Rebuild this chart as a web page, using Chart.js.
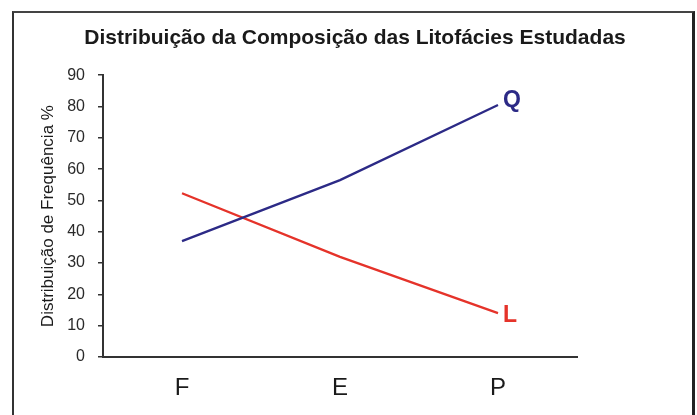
<!DOCTYPE html>
<html>
<head>
<meta charset="utf-8">
<script src="https://cdn.jsdelivr.net/npm/chart.js@4/dist/chart.umd.min.js"></script>
<style>
  html, body { margin: 0; padding: 0; background: #fff; overflow: hidden; }
  #wrap { position: relative; width: 697px; height: 415px; }
  #frame {
    position: absolute; left: 12px; top: 11px; width: 678px; height: 420px;
    border-left: 2px solid #333; border-top: 2px solid #444; border-right: 3px solid #222;
  }
  canvas { position: absolute; left: 0; top: 0; }
</style>
</head>
<body>
<div id="wrap">
  <div id="frame"></div>
  <canvas id="chart" width="697" height="415"></canvas>
</div>
<script>
  const categories = ['F', 'E', 'P'];
  const seriesQ = [37, 56.5, 80.5];
  const seriesL = [52.3, 32, 14];
  const yTicks = [0, 10, 20, 30, 40, 50, 60, 70, 80, 90];

  const FONT = "'Liberation Sans', Arial, sans-serif";

  // draws the Q / L tags just right of the last point of each line
  const endLabels = {
    id: 'endLabels',
    afterDatasetsDraw(chart) {
      const ctx = chart.ctx;
      chart.data.datasets.forEach((ds, i) => {
        const pts = chart.getDatasetMeta(i).data;
        const last = pts[pts.length - 1];
        ctx.save();
        ctx.font = 'bold 23px ' + FONT;
        ctx.fillStyle = ds.borderColor;
        ctx.textAlign = 'left';
        ctx.textBaseline = 'middle';
        ctx.fillText(ds.label, last.x + 5, last.y + ds.tagShift);
        ctx.restore();
      });
    },
  };

  new Chart(document.getElementById('chart'), {
    type: 'line',
    data: {
      labels: categories,
      datasets: [
        {
          label: 'Q',
          data: seriesQ,
          borderColor: '#2c2a86',
          borderWidth: 2.3,
          pointRadius: 0,
          tension: 0,
          tagShift: -4,
        },
        {
          label: 'L',
          data: seriesL,
          borderColor: '#e5332a',
          borderWidth: 2.3,
          pointRadius: 0,
          tension: 0,
          tagShift: 2,
        },
      ],
    },
    options: {
      responsive: false,
      animation: false,
      layout: { padding: { left: 13, right: 0, top: 0, bottom: 0 } },
      plugins: {
        legend: { display: false },
        tooltip: { enabled: false },
        title: {
          display: true,
          text: 'Distribuição da Composição das Litofácies Estudadas',
          color: '#1a1a1a',
          font: { family: FONT, size: 21, weight: 'bold', lineHeight: 1.2 },
          padding: { top: 26, bottom: 24 },
        },
      },
      scales: {
        x: {
          type: 'category',
          offset: true,
          grid: { display: true, drawOnChartArea: false, drawTicks: false },
          border: { display: true, color: '#333', width: 2 },
          ticks: {
            color: '#1a1a1a',
            padding: 17,
            font: { family: FONT, size: 24 },
          },
          afterFit(scale) { scale.height = 58; },
        },
        y: {
          min: 0,
          max: 90,
          afterBuildTicks(scale) { scale.ticks = yTicks.map((v) => ({ value: v })); },
          grid: { drawOnChartArea: false, drawTicks: true, tickLength: 5, color: '#333', lineWidth: 1.5 },
          border: { display: true, color: '#333', width: 2 },
          ticks: {
            color: '#2a2a2a',
            padding: 13,
            font: { family: FONT, size: 16 },
          },
          title: {
            display: true,
            text: 'Distribuição de Frequência %',
            color: '#1a1a1a',
            font: { family: FONT, size: 17, lineHeight: 1.2 },
            padding: { top: 25, bottom: 0 },
          },
          afterFit(scale) { scale.width = 90; },
        },
        spacer: {
          type: 'linear',
          position: 'right',
          display: true,
          grid: { display: false, drawTicks: false },
          border: { display: false },
          ticks: { display: false },
          afterFit(scale) { scale.width = 120; },
        },
      },
    },
    plugins: [endLabels],
  });
</script>
</body>
</html>
